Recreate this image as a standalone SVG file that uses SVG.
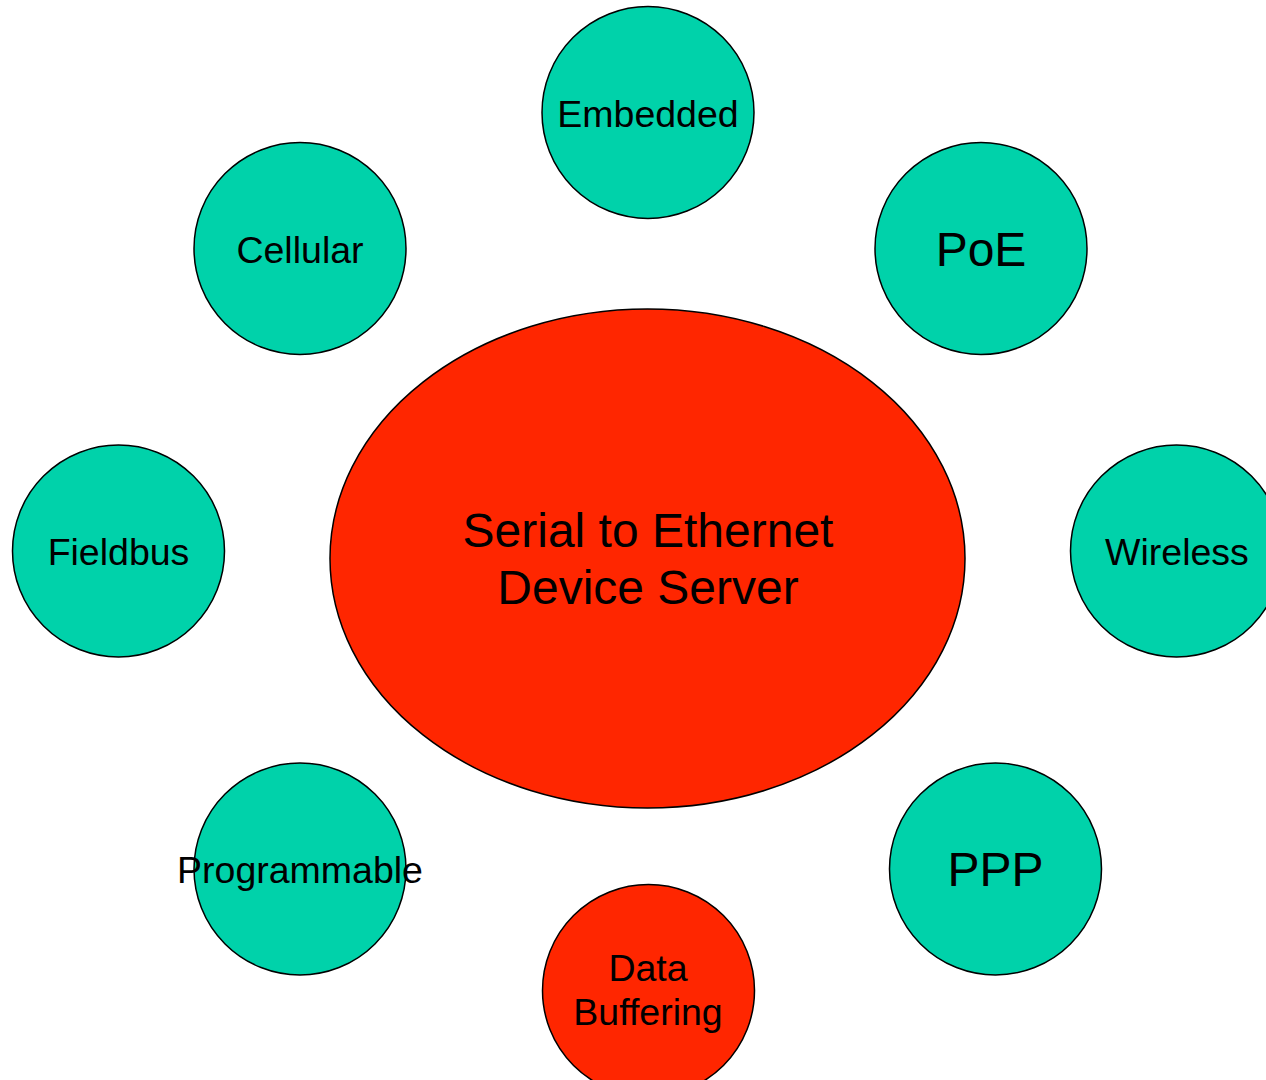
<svg xmlns="http://www.w3.org/2000/svg" width="1266" height="1080" viewBox="0 0 1266 1080">
  <style>
    .teal { fill: #00D2AA; stroke: #000000; stroke-width: 1.5; }
    .red { fill: #FF2600; stroke: #000000; stroke-width: 1.5; }
    .lbl { font-family: "Liberation Sans", Arial, sans-serif; font-size: 37.5px; fill: #000000; text-anchor: middle; }
    .big { font-size: 48px; }
  </style>
  <rect x="0" y="0" width="1266" height="1080" fill="#FFFFFF"/>
  <g id="connectors"/>
  <g id="center">
    <ellipse class="red" cx="647.5" cy="558.5" rx="317.5" ry="249.5"/>
    <text class="lbl big" x="648" y="547">Serial to Ethernet</text>
    <text class="lbl big" x="648" y="604">Device Server</text>
  </g>
  <g id="embedded">
    <circle class="teal" cx="648" cy="112.5" r="106"/>
    <text class="lbl" x="648" y="127">Embedded</text>
  </g>
  <g id="cellular">
    <circle class="teal" cx="300" cy="248.5" r="106"/>
    <text class="lbl" x="300" y="263">Cellular</text>
  </g>
  <g id="poe">
    <circle class="teal" cx="981" cy="248.5" r="106"/>
    <text class="lbl big" x="981" y="266">PoE</text>
  </g>
  <g id="fieldbus">
    <circle class="teal" cx="118.5" cy="551" r="106"/>
    <text class="lbl" x="118.5" y="564.5">Fieldbus</text>
  </g>
  <g id="wireless">
    <circle class="teal" cx="1176.5" cy="551" r="106"/>
    <text class="lbl" x="1177" y="564.5">Wireless</text>
  </g>
  <g id="programmable">
    <circle class="teal" cx="300" cy="869" r="106"/>
    <text class="lbl" x="300" y="882.5">Programmable</text>
  </g>
  <g id="ppp">
    <circle class="teal" cx="995.5" cy="869" r="106"/>
    <text class="lbl big" x="995.5" y="886">PPP</text>
  </g>
  <g id="data-buffering">
    <circle class="red" cx="648.5" cy="990.5" r="106"/>
    <text class="lbl" x="648" y="981">Data</text>
    <text class="lbl" x="648" y="1024.5">Buffering</text>
  </g>
</svg>
